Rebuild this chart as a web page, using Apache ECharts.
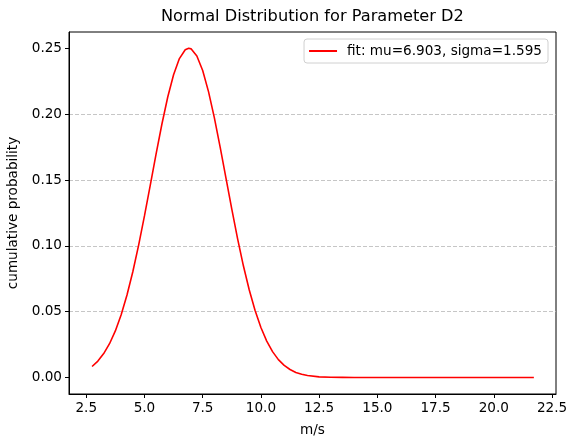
<!DOCTYPE html>
<html>
<head>
<meta charset="utf-8">
<script src="https://cdn.jsdelivr.net/npm/echarts@6/dist/echarts.min.js"></script>
<style>
  html, body { margin: 0; padding: 0; background: #fff; }
  #chart { width: 567px; height: 437px; }
</style>
</head>
<body>
<div id="chart"></div>
<script>
// values
var speeds = [2.75, 3.0, 3.25, 3.5, 3.75, 4.0, 4.25, 4.5, 4.75, 5.0, 5.25, 5.5, 5.75, 6.0, 6.25, 6.5, 6.75, 6.9, 7.0,
  7.25, 7.5, 7.75, 8.0, 8.25, 8.5, 8.75, 9.0, 9.25, 9.5, 9.75, 10.0, 10.25, 10.5, 10.75, 11.0, 11.25, 11.5,
  11.75, 12.0, 12.5, 13.0, 13.5, 14.0, 15.0, 17.5, 20.0, 21.72];
var density = [0.0084, 0.0125, 0.0182, 0.0257, 0.0354, 0.0477, 0.0627, 0.0804, 0.1006, 0.1228, 0.1462, 0.1699,
  0.1926, 0.2131, 0.2300, 0.2423, 0.2490, 0.2501, 0.2497, 0.2443, 0.2332, 0.2172, 0.1975, 0.1751, 0.1515, 0.1279,
  0.1054, 0.0847, 0.0665, 0.0509, 0.0380, 0.0277, 0.0197, 0.0136, 0.0092, 0.0061, 0.0039, 0.0025, 0.0015,
  0.0005, 0.0002, 0.0001, 0.0000, 0.0000, 0.0000, 0.0000, 0.0000];
var xTicks = [2.5, 5.0, 7.5, 10.0, 12.5, 15.0, 17.5, 20.0, 22.5];
var yTicks = [0.00, 0.05, 0.10, 0.15, 0.20, 0.25];
var seriesName = 'fit: mu=6.903, sigma=1.595';

var chart = echarts.init(document.getElementById('chart'));
var font = 'DejaVu Sans';
var fs = 13.6;

var points = [];
speeds.forEach(function (x, i) {
  points.push([x, density[i]]);
});

var option = {
  backgroundColor: '#fff',
  animation: false,
  title: {
    text: 'Normal Distribution for Parameter D2',
    left: 161,
    top: 9,
    padding: 0,
    textStyle: { fontFamily: font, fontSize: 16.2, fontWeight: 'normal', color: '#000' }
  },
  legend: {
    data: [{ name: seriesName, icon: 'rect' }],
    right: 19,
    top: 39,
    padding: [5, 6, 5, 5],
    itemWidth: 28,
    itemHeight: 2,
    backgroundColor: 'rgba(255,255,255,0.8)',
    borderColor: '#d0d0d0',
    borderWidth: 1,
    borderRadius: 3,
    textStyle: { fontFamily: font, fontSize: fs, lineHeight: 14, color: '#000', padding: [0, 0, 0, 5] }
  },
  grid: {
    left: 69,
    top: 32,
    right: 11,
    bottom: 43,
    outerBoundsMode: 'none',
    containLabel: false,
    show: true,
    borderColor: '#000',
    borderWidth: 1,
    backgroundColor: 'transparent'
  },
  xAxis: {
    type: 'value',
    min: 1.76,
    max: 22.67,
    name: 'm/s',
    nameLocation: 'middle',
    nameGap: 29,
    nameTextStyle: { fontFamily: font, fontSize: fs, color: '#000' },
    axisLine: { show: true, onZero: false, lineStyle: { color: '#000', width: 1 } },
    axisTick: { show: true, length: 4, customValues: xTicks, lineStyle: { color: '#000' } },
    axisLabel: {
      customValues: xTicks,
      margin: 7,
      fontFamily: font, fontSize: fs, color: '#000',
      formatter: function (v) { return v.toFixed(1); }
    },
    splitLine: { show: false }
  },
  yAxis: {
    type: 'value',
    min: -0.0125,
    max: 0.2625,
    minInterval: 0.05,
    maxInterval: 0.05,
    name: 'cumulative probability',
    nameLocation: 'middle',
    nameGap: 39,
    nameTextStyle: { fontFamily: font, fontSize: fs, color: '#000' },
    axisLine: { show: true, onZero: false, lineStyle: { color: '#000', width: 1 } },
    axisTick: { show: true, length: 4, customValues: yTicks, lineStyle: { color: '#000' } },
    axisLabel: {
      customValues: yTicks,
      margin: 7,
      fontFamily: font, fontSize: fs, color: '#000',
      formatter: function (v) { return v.toFixed(2); }
    },
    splitLine: {
      show: true,
      showMinLine: false,
      showMaxLine: false,
      lineStyle: { color: '#b8b8b8', width: 0.8, type: [4, 2] }
    }
  },
  series: [{
    name: seriesName,
    type: 'line',
    data: points,
    symbol: 'none',
    smooth: false,
    lineStyle: { color: '#ff0000', width: 1.6 },
    itemStyle: { color: '#ff0000' }
  }]
};

chart.setOption(option);
</script>
</body>
</html>
